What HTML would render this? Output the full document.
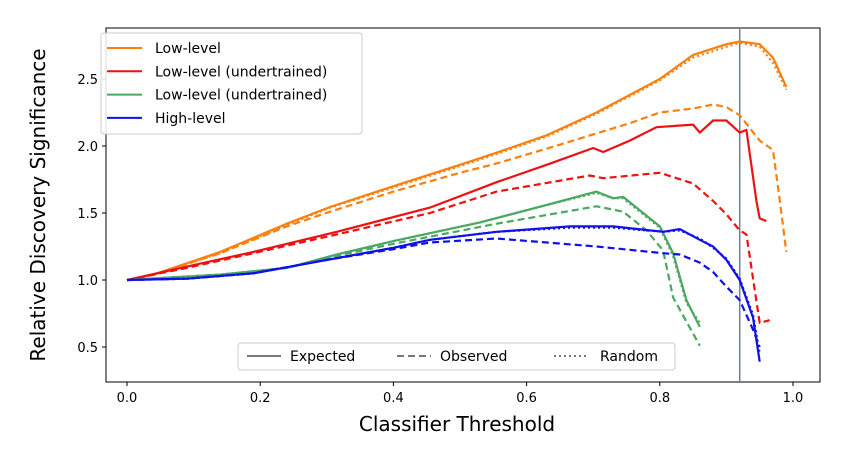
<!DOCTYPE html>
<html><head><meta charset="utf-8"><style>
body{margin:0;background:#fff;}
svg{display:block;font-family:"DejaVu Sans","Liberation Sans",sans-serif;}
</style></head><body>
<svg id="chart" width="844" height="452"></svg>
<script>
const xOrange = [0,0.04,0.14,0.24,0.305,0.4,0.5,0.555,0.63,0.705,0.8,0.85,0.9,0.92,0.95,0.97,0.99];
const yOrangeExp = [1.0,1.04,1.21,1.42,1.545,1.70,1.86,1.95,2.08,2.25,2.50,2.68,2.76,2.78,2.76,2.66,2.44];
const yOrangeRnd = [1.0,1.04,1.20,1.41,1.54,1.69,1.85,1.94,2.07,2.24,2.49,2.66,2.74,2.77,2.74,2.62,2.42];
const xOrangeObs = [0,0.04,0.14,0.24,0.305,0.4,0.5,0.555,0.63,0.755,0.8,0.85,0.88,0.9,0.92,0.95,0.97,0.98,0.99];
const yOrangeObs = [1.0,1.04,1.20,1.40,1.51,1.66,1.80,1.87,1.98,2.17,2.25,2.28,2.31,2.29,2.23,2.04,1.97,1.6,1.21];
const xRed = [0,0.09,0.19,0.315,0.455,0.555,0.63,0.70,0.715,0.755,0.795,0.85,0.86,0.88,0.9,0.92,0.93,0.945,0.95,0.96];
const yRedExp = [1.0,1.10,1.21,1.36,1.54,1.73,1.86,1.985,1.955,2.04,2.14,2.16,2.10,2.19,2.19,2.10,2.12,1.59,1.46,1.44];
const xRedObs = [0,0.09,0.19,0.315,0.455,0.555,0.695,0.715,0.8,0.85,0.88,0.9,0.92,0.93,0.95,0.965];
const yRedObs = [1.0,1.09,1.20,1.34,1.50,1.66,1.78,1.76,1.80,1.72,1.59,1.49,1.37,1.34,0.68,0.70];
const xGreen = [0,0.14,0.24,0.315,0.4,0.53,0.63,0.705,0.73,0.745,0.765,0.8,0.82,0.84,0.86];
const yGreenExp = [1.0,1.04,1.09,1.19,1.29,1.43,1.56,1.66,1.61,1.62,1.54,1.40,1.20,0.85,0.65];
const yGreenRnd = [1.0,1.04,1.09,1.19,1.29,1.43,1.56,1.65,1.61,1.61,1.53,1.39,1.18,0.83,0.68];
const xGreenObs = [0,0.14,0.24,0.315,0.4,0.555,0.705,0.745,0.78,0.805,0.82,0.86];
const yGreenObs = [1.0,1.04,1.09,1.18,1.27,1.42,1.55,1.51,1.37,1.22,0.87,0.51];
const xBlue = [0,0.09,0.19,0.3,0.4,0.455,0.555,0.665,0.73,0.805,0.83,0.86,0.88,0.9,0.92,0.94,0.95];
const yBlueExp = [1.0,1.01,1.05,1.15,1.24,1.30,1.36,1.40,1.40,1.36,1.38,1.30,1.25,1.15,1.0,0.72,0.39];
const yBlueRnd = [1.0,1.01,1.05,1.15,1.24,1.30,1.36,1.39,1.39,1.36,1.37,1.31,1.24,1.16,1.01,0.74,0.45];
const xBlueObs = [0,0.09,0.19,0.3,0.4,0.455,0.555,0.655,0.705,0.805,0.83,0.86,0.88,0.9,0.92,0.94,0.95];
const yBlueObs = [1.0,1.01,1.05,1.15,1.23,1.28,1.31,1.27,1.25,1.20,1.19,1.13,1.06,0.95,0.85,0.63,0.5];
const xTicks = [0,0.2,0.4,0.6,0.8,1.0];
const xTickLabels = ["0.0","0.2","0.4","0.6","0.8","1.0"];
const yTicks = [0.5,1.0,1.5,2.0,2.5];
const yTickLabels = ["0.5","1.0","1.5","2.0","2.5"];
const threshold = 0.92;

const NS="http://www.w3.org/2000/svg";
const svg=document.getElementById('chart');
const L=106,R=820,T=28,B=382;
const sx=v=>127+v*666;
const sy=v=>280-(v-1)*134;
function el(tag,attrs,parent){const e=document.createElementNS(NS,tag);for(const k in attrs)e.setAttribute(k,attrs[k]);(parent||svg).appendChild(e);return e;}
function txt(s,attrs){const e=el('text',attrs);e.textContent=s;return e;}

const frame=el('rect',{x:L,y:T,width:R-L,height:B-T,fill:'none',stroke:'#000','stroke-width':1});



xTicks.forEach((v,i)=>{
  const t=el('line',{x1:sx(v),x2:sx(v),y1:B,y2:B+4,stroke:'#000'});
  
  
  const l=txt(xTickLabels[i],{x:sx(v),y:B+20,'font-size':13,'text-anchor':'middle'});
  
  
});
yTicks.forEach((v,i)=>{
  const t=el('line',{x1:L-4,x2:L,y1:sy(v),y2:sy(v),stroke:'#000'});
  
  
  const l=txt(yTickLabels[i],{x:L-8,y:sy(v)+5,'font-size':13,'text-anchor':'end'});
  
  
});
const xt=txt('Classifier Threshold',{x:457,y:431,'font-size':20,'text-anchor':'middle'});


const yt=txt('Relative Discovery Significance',{x:0,y:0,'font-size':20,'text-anchor':'middle',transform:'translate(45,205) rotate(-90)'});



const vl=el('line',{x1:sx(threshold),x2:sx(threshold),y1:T,y2:B,stroke:'#708090','stroke-width':1.5});



function series(xs,ys,color,dash,name){
  const d=xs.map((x,i)=>(i?'L':'M')+sx(x).toFixed(1)+','+sy(ys[i]).toFixed(1)).join(' ');
  const p=el('path',{d:d,fill:'none',stroke:color,'stroke-width':2.2,'stroke-dasharray':dash,'stroke-linejoin':'round'});
  
  
}
const OR='#ff7f0e',RD='#ee1111',GR='#4aa860',BL='#1010ee';
series(xOrange,yOrangeRnd,OR,'2,3','low-level-random');
series(xOrange,yOrangeExp,OR,'none','low-level-expected');
series(xOrangeObs,yOrangeObs,OR,'7,4','low-level-observed');
series(xRed,yRedExp,RD,'none','low-level-undertrained-expected');
series(xRedObs,yRedObs,RD,'7,4','low-level-undertrained-observed');
series(xGreen,yGreenRnd,GR,'2,3','low-level-undertrained-2-random');
series(xGreen,yGreenExp,GR,'none','low-level-undertrained-2-expected');
series(xGreenObs,yGreenObs,GR,'7,4','low-level-undertrained-2-observed');
series(xBlue,yBlueRnd,BL,'2,3','high-level-random');
series(xBlue,yBlueExp,BL,'none','high-level-expected');
series(xBlueObs,yBlueObs,BL,'7,4','high-level-observed');

const lg=el('g',{});


el('rect',{x:101,y:33,width:261,height:101,rx:3,fill:'#fff','fill-opacity':0.85,stroke:'#ccc'},lg);
[['Low-level',OR],['Low-level (undertrained)',RD],['Low-level (undertrained)',GR],['High-level',BL]].forEach((e,i)=>{
  const y=48+i*23.3;
  const g=el('g',{},lg);
  
  
  el('line',{x1:107,x2:142,y1:y,y2:y,stroke:e[1],'stroke-width':2},g);
  const t=el('text',{x:155,y:y+5,'font-size':14},g);t.textContent=e[0];
});
const sg=el('g',{});


el('rect',{x:238,y:343,width:437,height:27,rx:3,fill:'#fff','fill-opacity':0.85,stroke:'#ccc'},sg);
[['Expected',247,'none',290],['Observed',397,'7,4',440],['Random',554,'2,3',600]].forEach(e=>{
  const g=el('g',{},sg);
  
  
  el('line',{x1:e[1],x2:e[1]+34,y1:356,y2:356,stroke:'#777','stroke-width':2,'stroke-dasharray':e[2]},g);
  const t=el('text',{x:e[3],y:361,'font-size':14},g);t.textContent=e[0];
});
</script>
</body></html>
